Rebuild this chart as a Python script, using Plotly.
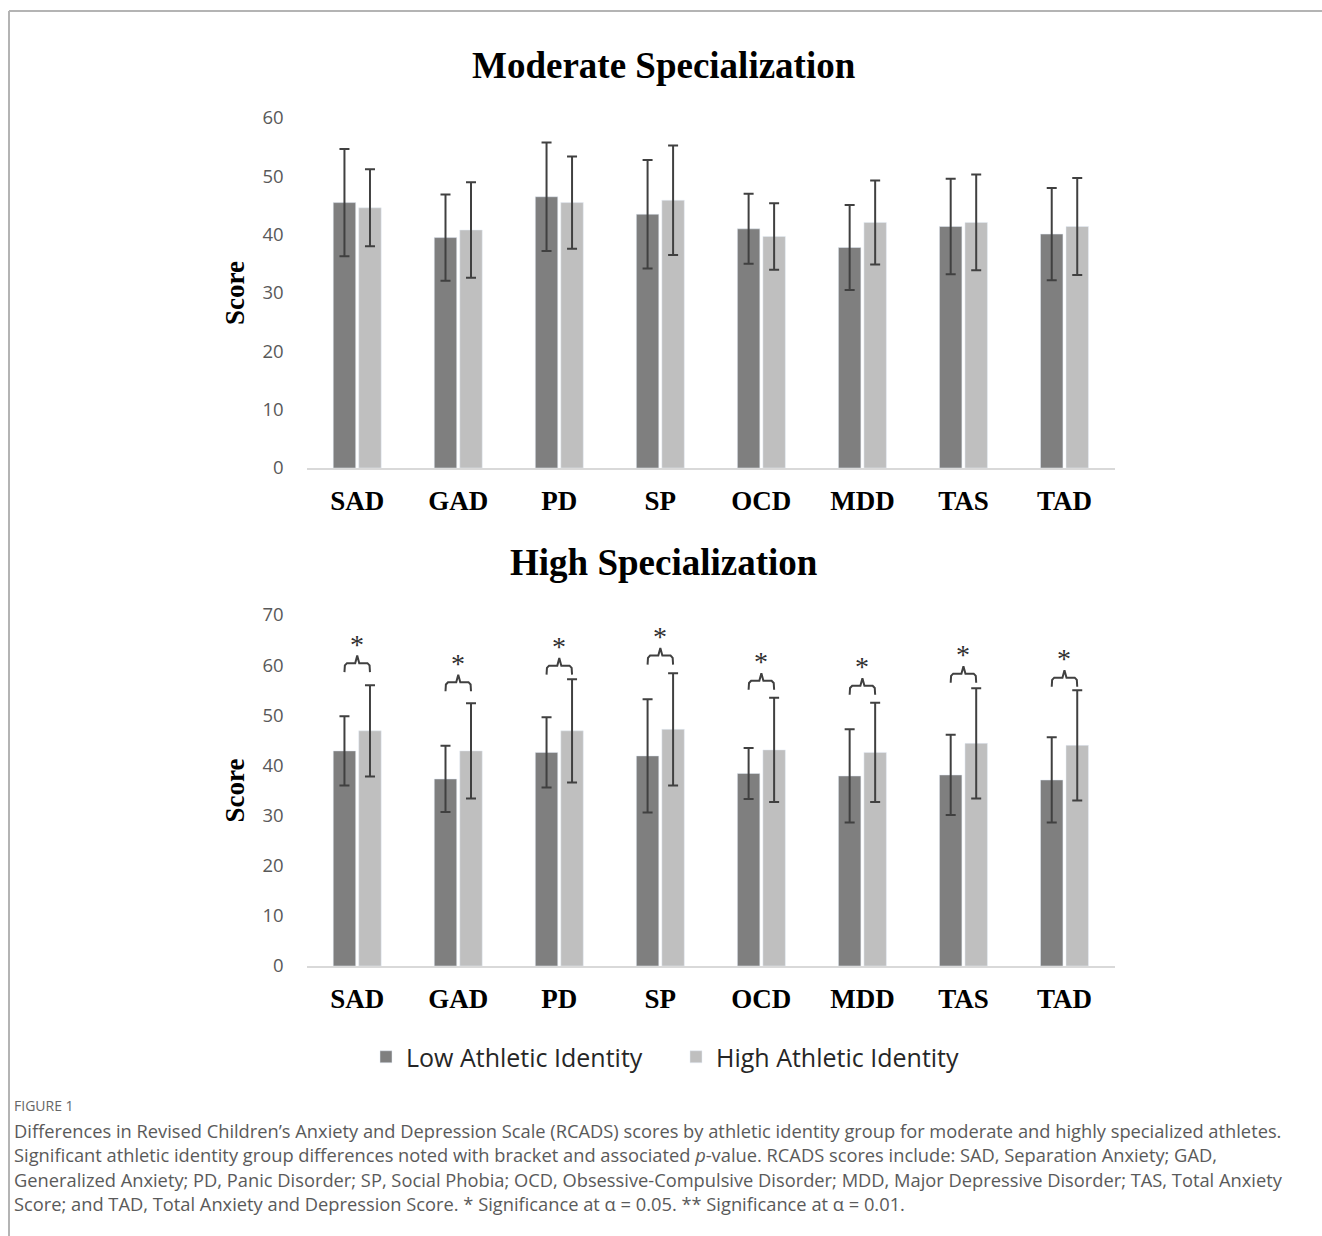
import plotly.graph_objects as go

# ---------------- data ----------------
categories = ["SAD", "GAD", "PD", "SP", "OCD", "MDD", "TAS", "TAD"]

mod_low_mean = [45.5, 39.5, 46.5, 43.5, 41.0, 37.8, 41.4, 40.1]
mod_low_sd = [9.2, 7.4, 9.3, 9.3, 6.0, 7.3, 8.2, 7.9]
mod_high_mean = [44.6, 40.8, 45.5, 45.9, 39.7, 42.1, 42.1, 41.4]
mod_high_sd = [6.6, 8.2, 7.9, 9.4, 5.7, 7.2, 8.2, 8.3]

high_low_mean = [42.9, 37.3, 42.6, 41.9, 38.4, 37.9, 38.1, 37.1]
high_low_sd = [6.9, 6.6, 7.0, 11.3, 5.1, 9.3, 8.0, 8.5]
high_high_mean = [46.9, 42.9, 46.9, 47.2, 43.1, 42.6, 44.4, 44.0]
high_high_sd = [9.1, 9.5, 10.3, 11.2, 10.4, 9.9, 11.0, 11.0]

# significance brackets (high specialization panel): base level of bracket ends
bracket_level = [58.6, 54.8, 58.1, 60.1, 55.1, 54.1, 56.5, 55.7]
bracket_label = ["*", "*", "*", "*", "*", "*", "*", "*"]

series_names = ["Low Athletic Identity", "High Athletic Identity"]
low_color = "#7f7f7f"
high_color = "#bfbfbf"
err_color = "#404040"

W, H = 1322, 1236
BARGAP = 0.495
x_idx = list(range(len(categories)))
half_slot = (1 - BARGAP) / 4.0  # offset of each bar center from category center


def px_x(p):
    return p / W


def px_y(p):
    return 1 - p / H


fig = go.Figure()

panels = [
    ("x", "y", mod_low_mean, mod_low_sd, mod_high_mean, mod_high_sd, True),
    ("x2", "y2", high_low_mean, high_low_sd, high_high_mean, high_high_sd, False),
]
for xa, ya, lm, ls, hm, hs, show in panels:
    fig.add_trace(go.Bar(
        x=x_idx, y=lm, name=series_names[0], marker_color=low_color,
        offsetgroup="low", xaxis=xa, yaxis=ya, showlegend=show,
        legendgroup="low",
        error_y=dict(type="data", array=ls, visible=True, color=err_color,
                     thickness=2, width=5),
    ))
    fig.add_trace(go.Bar(
        x=x_idx, y=hm, name=series_names[1], marker_color=high_color,
        offsetgroup="high", xaxis=xa, yaxis=ya, showlegend=show,
        legendgroup="high",
        error_y=dict(type="data", array=hs, visible=True, color=err_color,
                     thickness=2, width=5),
    ))

# brackets (curly braces) between the two bars of each group
drop = 1.8
cusp = 1.5
bx, by = [], []
for i, b in zip(x_idx, bracket_level):
    xl, xr = i - half_slot, i + half_slot
    pts = [
        (xl, b), (xl + 0.004, b + drop * 0.75), (xl + 0.025, b + drop),
        (i - 0.02, b + drop), (i, b + drop + cusp),
        (i + 0.02, b + drop), (xr - 0.025, b + drop),
        (xr - 0.004, b + drop * 0.75), (xr, b),
    ]
    for px_, py_ in pts:
        bx.append(px_)
        by.append(py_)
    bx.append(None)
    by.append(None)
fig.add_trace(go.Scatter(
    x=bx, y=by, mode="lines", line=dict(color=err_color, width=2),
    xaxis="x2", yaxis="y2", showlegend=False, hoverinfo="skip",
))
for i, b, lab in zip(x_idx, bracket_level, bracket_label):
    fig.add_annotation(
        x=i, y=b + drop + cusp, xref="x2", yref="y2", text=lab,
        showarrow=False, yanchor="bottom", yshift=-6,
        font=dict(family="Liberation Serif", size=28, color="#303030"),
    )

xdom = [px_x(306.7), px_x(1115)]
axis_common_x = dict(
    domain=xdom, range=[-0.5, len(categories) - 0.5], tickmode="array",
    tickvals=x_idx, ticktext=categories, showgrid=False, zeroline=False,
    showline=True, linecolor="#d9d9d9", linewidth=2, ticks="",
    ticklabelstandoff=8, automargin=False,
    tickfont=dict(family="Liberation Serif", size=27, color="#000000",
                  weight="bold"),
)
axis_common_y = dict(
    showgrid=False, zeroline=False, showline=False, ticks="", dtick=10,
    ticklabelstandoff=22, automargin=False,
    tickfont=dict(family="Open Sans", size=18.5, color="#595959"),
    title=dict(text="Score", standoff=10,
               font=dict(family="Liberation Serif", size=27, color="#000000",
                         weight="bold")),
)

fig.update_layout(
    width=W, height=H, autosize=False,
    margin=dict(l=0, r=0, t=0, b=0, pad=0),
    paper_bgcolor="white", plot_bgcolor="white",
    barmode="group", bargap=BARGAP, bargroupgap=0.12,
    xaxis=dict(axis_common_x, anchor="y"),
    yaxis=dict(axis_common_y, domain=[px_y(468), px_y(118)], range=[0, 60],
               anchor="x"),
    xaxis2=dict(axis_common_x, anchor="y2"),
    yaxis2=dict(axis_common_y, domain=[px_y(966), px_y(615)], range=[0, 70],
                anchor="x2"),
    legend=dict(orientation="h", x=px_x(366), xanchor="left",
                y=px_y(1057), yanchor="middle", entrywidth=265,
                font=dict(family="Open Sans", size=25, color="#262626"),
                bgcolor="rgba(0,0,0,0)"),
    showlegend=True,
)

# panel titles
for txt, yc in [("Moderate Specialization", 66), ("High Specialization", 562)]:
    fig.add_annotation(
        x=px_x(664), y=px_y(yc), xref="paper", yref="paper", text=txt,
        showarrow=False, xanchor="center", yanchor="middle",
        font=dict(family="Liberation Serif", size=37, color="#000000",
                  weight="bold"),
    )

# caption
fig.add_annotation(
    x=px_x(12), y=px_y(1105), xref="paper", yref="paper", text="FIGURE 1",
    showarrow=False, xanchor="left", yanchor="middle",
    font=dict(family="Open Sans", size=14, color="#666666"),
)
caption_lines = [
    "Differences in Revised Children\u2019s Anxiety and Depression Scale (RCADS) scores by athletic identity group for moderate and highly specialized athletes.",
    "Significant athletic identity group differences noted with bracket and associated <i>p</i>-value. RCADS scores include: SAD, Separation Anxiety; GAD,",
    "Generalized Anxiety; PD, Panic Disorder; SP, Social Phobia; OCD, Obsessive-Compulsive Disorder; MDD, Major Depressive Disorder; TAS, Total Anxiety",
    "Score; and TAD, Total Anxiety and Depression Score. * Significance at \u03b1 = 0.05. ** Significance at \u03b1 = 0.01.",
]
for line, yc in zip(caption_lines, [1130, 1154, 1179, 1203]):
    fig.add_annotation(
        x=px_x(12), y=px_y(yc), xref="paper", yref="paper", text=line,
        showarrow=False, xanchor="left", yanchor="middle",
        font=dict(family="Open Sans", size=18.3, color="#5a5a5a"),
    )

# frame lines
fig.add_shape(type="line", xref="paper", yref="paper",
              x0=px_x(9), x1=1, y0=px_y(11), y1=px_y(11),
              line=dict(color="#b4b4b4", width=2))
fig.add_shape(type="line", xref="paper", yref="paper",
              x0=px_x(9), x1=px_x(9), y0=px_y(11), y1=0,
              line=dict(color="#b4b4b4", width=2))

fig.write_html("out.html", config={"displayModeBar": False},
               post_script="document.body.style.margin='0';")
